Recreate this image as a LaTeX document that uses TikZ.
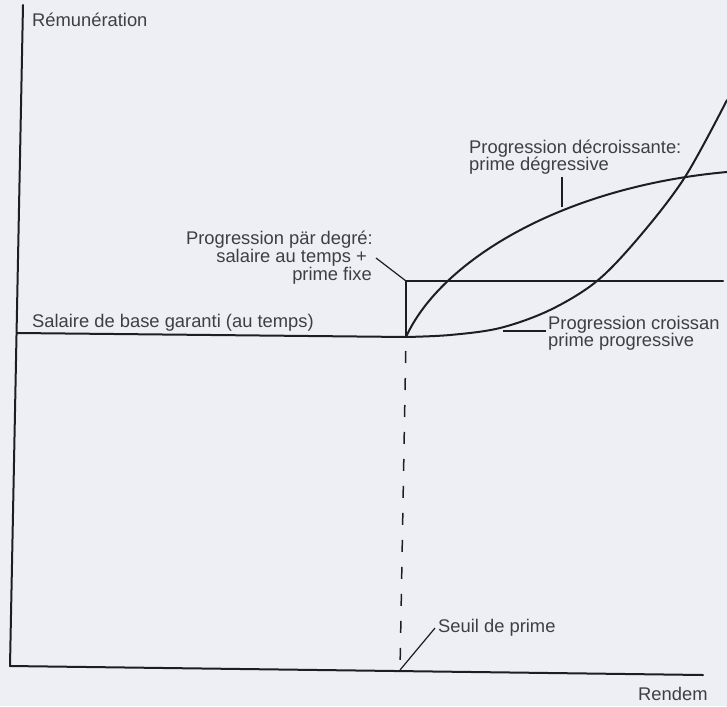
\documentclass[tikz,border=0pt]{standalone}
\usepackage{fontspec}
\setmainfont{Liberation Sans}
\definecolor{bgc}{RGB}{237,239,245}
\definecolor{linec}{RGB}{30,30,34}
\definecolor{txtc}{RGB}{62,62,68}
\begin{document}
\begin{tikzpicture}[x=1pt,y=-1pt,
  ln/.style={line width=2pt, draw=linec, line cap=round, line join=round},
  lead/.style={line width=1.2pt, draw=linec},
  dashline/.style={line width=1.5pt, draw=linec, dash pattern=on 12pt off 15pt, dash phase=-14pt},
  lbl/.style={text=txtc, font=\fontsize{18.35}{18}\selectfont, inner sep=0pt}]
\fill[bgc] (0,0) rectangle (727,706);
\useasboundingbox (0,0) rectangle (727,706);

% axes
\coordinate (ytop) at (23,5);
\coordinate (orig) at (10,666);
\coordinate (xend) at (703,675);
\draw[ln] (ytop) -- (orig) -- (xend);

% key points
\coordinate (base0) at (17,333);
\coordinate (P) at (406,337);
\coordinate (stepTop) at (406,281);
\coordinate (stepEnd) at (723,281);
\coordinate (S) at (400,670);

% base salary and step
\draw[ln] (base0) -- (P);
\draw[ln] (P) -- (stepTop) -- (stepEnd);
\draw[dashline] (P) -- (S);

% decreasing progression
\draw[ln] (P) .. controls (440,262) and (560,187) .. (727,172);
% increasing progression
\draw[ln] plot[smooth, tension=0.55] coordinates {(406,337) (450,335) (500,328) (550,310) (597,281) (640,236) (685,177) (727,100)};

% labels
\node[lbl, anchor=base west] (rem) at (32,27) {Rémunération};
\node[lbl, anchor=base west] (sal) at (32,327) {Salaire de base garanti (au temps)};
\node[lbl, anchor=base east] (deg1) at (373,244) {Progression pär degré:};
\node[lbl, anchor=base east] (deg2) at (367,262) {salaire au temps +};
\node[lbl, anchor=base east] (deg3) at (372,280) {prime fixe};
\node[lbl, anchor=base west] (dec1) at (469,153) {Progression décroissante:};
\node[lbl, anchor=base west] (dec2) at (469,170) {prime dégressive};
\node[lbl, anchor=base west] (cro1) at (548,329) {Progression croissan};
\node[lbl, anchor=base west] (cro2) at (548,346) {prime progressive};
\node[lbl, anchor=base west] (seuil) at (438,632) {Seuil de prime};
\node[lbl, anchor=base west] (rend) at (638,700) {Rendem};

% leaders
\coordinate (degL) at (376,258);
\draw[lead] (stepTop) -- (degL);
\coordinate (decA) at (562,177);
\coordinate (decB) at (562,207);
\draw[lead] (decA) -- (decB);
\coordinate (croA) at (503,331);
\coordinate (croB) at (546,331);
\draw[lead] (croA) -- (croB);
\coordinate (seuA) at (435,628);
\draw[lead] (S) -- (seuA);
\end{tikzpicture}
\end{document}
